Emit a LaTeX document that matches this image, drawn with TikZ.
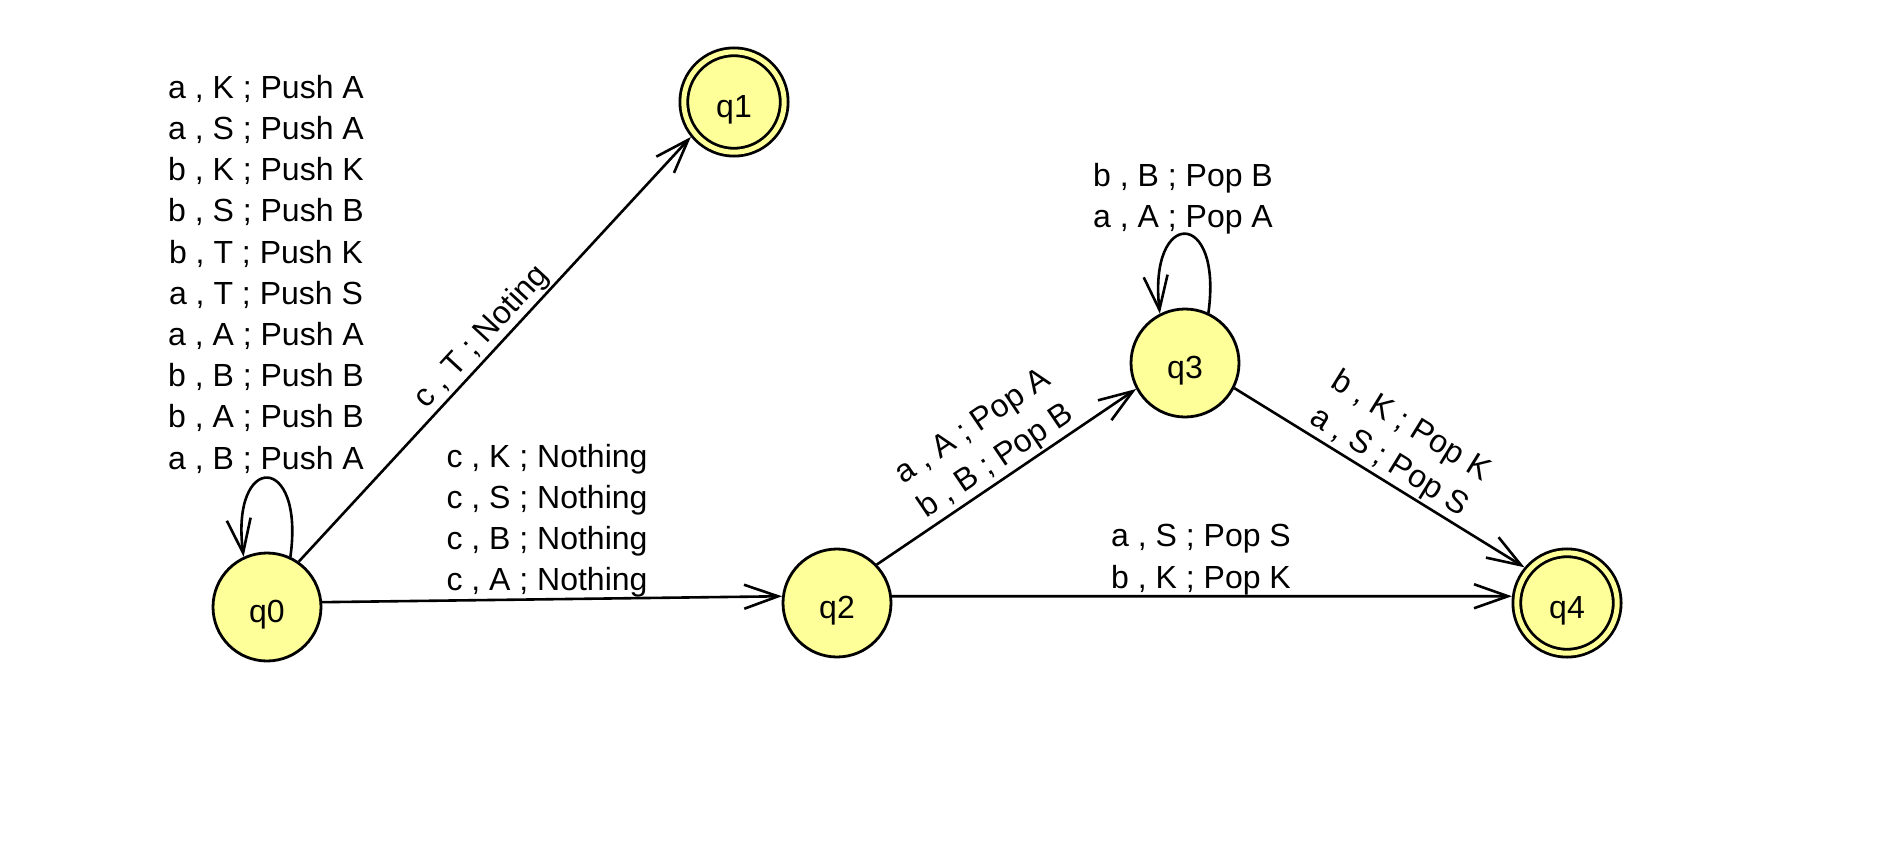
\documentclass[tikz,border=0pt]{standalone}
\usepackage{fontspec}
\setmainfont{Liberation Sans}
\usetikzlibrary{arrows.meta,calc}
\definecolor{statefill}{RGB}{255,255,153}
\begin{document}
\begin{tikzpicture}[x=1pt,y=-1pt,
  stt/.style={circle, draw=black, fill=statefill, line width=2.8pt,
    minimum size=108pt, inner sep=0pt, text height=31pt, text depth=0pt,
    font=\fontsize{32}{38}\selectfont},
  acc/.style={minimum size=100.4pt, double=statefill, double distance=5pt,
    outer sep=5.3pt},
  trans/.style={line width=2.6pt, -{Straight Barb[length=34pt,width=24pt]}},
  lbl/.style={anchor=base, inner sep=0pt, font=\fontsize{32}{38}\selectfont},
]
\fill[white] (0,0) rectangle (1893,859);
\useasboundingbox (0,0) rectangle (1893,859);

% states
\node[stt]     (q0) at (267,607)  {q0};
\node[stt,acc] (q1) at (734,102)  {q1};
\node[stt]     (q2) at (837,603)  {q2};
\node[stt]     (q3) at (1185,363) {q3};
\node[stt,acc] (q4) at (1567,603) {q4};

% transitions
\draw[trans] (q0.55) -- (q1.219);
\draw[trans] (q0.5)  -- (q2.173);
\draw[trans] (q2.44) -- (q3.208);
\draw[trans] (q3.-27) -- (q4.140);
\draw[trans] (q2.7)  -- (q4.173);
\draw[trans] (q0.65) .. controls ($(q0)+(38,-155)$) and ($(q0)+(-37,-155)$) .. (q0.115);
\draw[trans] (q3.65) .. controls ($(q3)+(38,-155)$) and ($(q3)+(-37,-155)$) .. (q3.117);

% self-loop on q0
\foreach \t [count=\i from 0] in {{a , K ; Push A},{a , S ; Push A},{b , K ; Push K},
    {b , S ; Push B},{b , T ; Push K},{a , T ; Push S},{a , A ; Push A},
    {b , B ; Push B},{b , A ; Push B},{a , B ; Push A}}
  \node[lbl] (lq0\i) at (266,{98.3+41.2*\i}) {\t};

% q0 -> q2
\foreach \t [count=\i from 0] in {{c , K ; Nothing},{c , S ; Nothing},
    {c , B ; Nothing},{c , A ; Nothing}}
  \node[lbl] (lq02\i) at (547,{467+41.3*\i}) {\t};

% self-loop on q3
\node[lbl] (lq3a) at (1183,186)   {b , B ; Pop B};
\node[lbl] (lq3b) at (1183,227.3) {a , A ; Pop A};

% q2 -> q4
\node[lbl] (lq24a) at (1201,546.7) {a , S ; Pop S};
\node[lbl] (lq24b) at (1201,588)   {b , K ; Pop K};

% sloped labels along the slanted transitions
\path ($(q0.55)!9pt!90:(q1.219)$) -- ($(q1.219)!9pt!-90:(q0.55)$)
  node[lbl, sloped, pos=0.5] (lq01) {c , T ; Noting};
\path ($(q2.44)!10pt!90:(q3.208)$) -- ($(q3.208)!10pt!-90:(q2.44)$)
  node[lbl, sloped, pos=0.5] (lq23b) {b , B ; Pop B};
\path ($(q2.44)!51.3pt!90:(q3.208)$) -- ($(q3.208)!51.3pt!-90:(q2.44)$)
  node[lbl, sloped, pos=0.5] (lq23a) {a , A ; Pop A};
\path ($(q3.-27)!10pt!90:(q4.140)$) -- ($(q4.140)!10pt!-90:(q3.-27)$)
  node[lbl, sloped, pos=0.5] (lq34b) {a , S ; Pop S};
\path ($(q3.-27)!51.3pt!90:(q4.140)$) -- ($(q4.140)!51.3pt!-90:(q3.-27)$)
  node[lbl, sloped, pos=0.5] (lq34a) {b , K ; Pop K};
\end{tikzpicture}
\end{document}
